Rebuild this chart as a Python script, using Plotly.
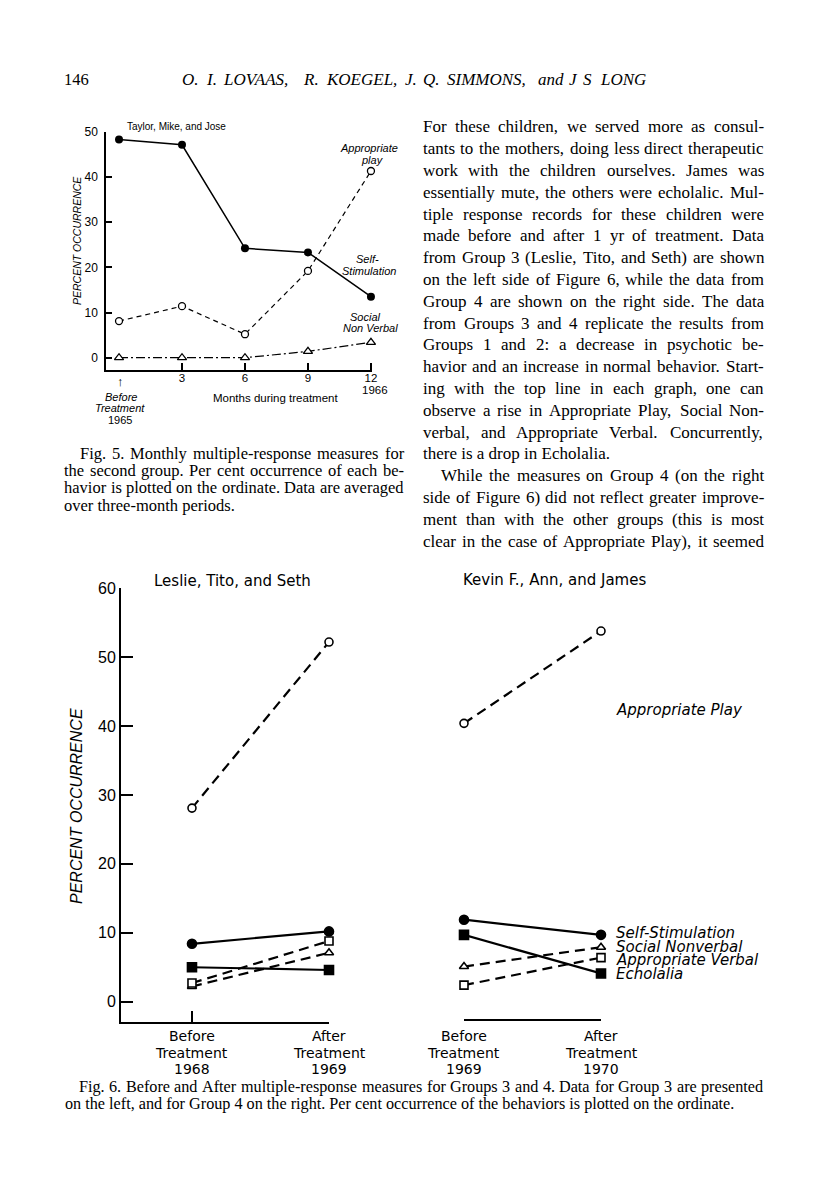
import plotly.graph_objects as go

# ---- values ----
# Fig. 5: Taylor, Mike and Jose, months during treatment
months = [0, 3, 6, 9, 12]
f5_self_stim = [48.3, 47.1, 24.2, 23.3, 13.5]
f5_approp_play = [8.1, 11.4, 5.2, 19.2, 41.3]
f5_social_nonverbal = [0.0, 0.0, 0.0, 1.4, 3.4]
f5_yticks = [0, 10, 20, 30, 40, 50]
f5_xticks = [3, 6, 9, 12]

# Fig. 6: before (0) / after (1) treatment
phase = [0, 1]
g3_approp_play = [28.1, 52.2]
g3_self_stim = [8.4, 10.2]
g3_echolalia = [5.0, 4.6]
g3_approp_verbal = [2.7, 8.8]
g3_social_nonverbal = [2.2, 7.1]

g4_approp_play = [40.4, 53.8]
g4_self_stim = [11.9, 9.7]
g4_echolalia = [9.7, 4.1]
g4_social_nonverbal = [5.1, 7.9]
g4_approp_verbal = [2.4, 6.4]

f6_yticks = [0, 10, 20, 30, 40, 50, 60]
g3_xlabels = [["Before", "Treatment", "1968"], ["After", "Treatment", "1969"]]
g4_xlabels = [["Before", "Treatment", "1969"], ["After", "Treatment", "1970"]]
g4_series = ["Self-Stimulation", "Social Nonverbal", "Appropriate Verbal", "Echolalia"]

# ---- page text ----
header_authors = "O. I. LOVAAS, R. KOEGEL, J. Q. SIMMONS, and J S LONG"
body_lines = [
    "For these children, we served more as consul-",
    "tants to the mothers, doing less direct therapeutic",
    "work with the children ourselves. James was",
    "essentially mute, the others were echolalic. Mul-",
    "tiple response records for these children were",
    "made before and after 1 yr of treatment. Data",
    "from Group 3 (Leslie, Tito, and Seth) are shown",
    "on the left side of Figure 6, while the data from",
    "Group 4 are shown on the right side. The data",
    "from Groups 3 and 4 replicate the results from",
    "Groups 1 and 2: a decrease in psychotic be-",
    "havior and an increase in normal behavior. Start-",
    "ing with the top line in each graph, one can",
    "observe a rise in Appropriate Play, Social Non-",
    "verbal, and Appropriate Verbal. Concurrently,",
    "there is a drop in Echolalia.",
    "While the measures on Group 4 (on the right",
    "side of Figure 6) did not reflect greater improve-",
    "ment than with the other groups (this is most",
    "clear in the case of Appropriate Play), it seemed",
]
fig5_caption = [
    "Fig. 5. Monthly multiple-response measures for",
    "the second group. Per cent occurrence of each be-",
    "havior is plotted on the ordinate. Data are averaged",
    "over three-month periods.",
]
fig6_caption = [
    "Fig. 6. Before and After multiple-response measures for Groups 3 and 4. Data for Group 3 are presented",
    "on the left, and for Group 4 on the right. Per cent occurrence of the behaviors is plotted on the ordinate.",
]

# page geometry (the html body adds an 8px margin)
OFF = 8
W, H = 800, 1179


def px(x):
    return (x - OFF) / W


def py(y):
    return 1 - (y - OFF) / H


# Times metrics, used to spread words for justified lines
TIMES = {' ': 250, ',': 250, '.': 250, ':': 278, ';': 278, '-': 333, '(': 333, ')': 333, "'": 333,
         'A': 722, 'B': 667, 'C': 667, 'D': 722, 'E': 611, 'F': 556, 'G': 722, 'H': 722, 'I': 333,
         'J': 389, 'K': 722, 'L': 611, 'M': 889, 'N': 722, 'O': 722, 'P': 556, 'Q': 722, 'R': 667,
         'S': 556, 'T': 611, 'U': 722, 'V': 722, 'W': 944, 'X': 722, 'Y': 722, 'Z': 611,
         'a': 444, 'b': 500, 'c': 444, 'd': 500, 'e': 444, 'f': 333, 'g': 500, 'h': 500, 'i': 278,
         'j': 278, 'k': 500, 'l': 278, 'm': 778, 'n': 500, 'o': 500, 'p': 500, 'q': 500, 'r': 333,
         's': 389, 't': 278, 'u': 500, 'v': 500, 'w': 722, 'x': 500, 'y': 500, 'z': 444}


def tw(s, size):
    return sum(TIMES.get(c, 500) for c in s) / 1000 * size


def note(text, x, y, size, anchor='left', family='Liberation Sans', **kw):
    return dict(text=text, x=px(x), y=py(y), xref='paper', yref='paper', xanchor=anchor,
                yanchor='middle', showarrow=False, borderpad=0,
                font=dict(family=family, size=size, color='black'), **kw)


def text_line(text, x0, x1, y, size, justify=True, italic=False):
    fam = 'Liberation Serif'
    if not justify:
        t = '<i>' + text + '</i>' if italic else text
        return [note(t, x0, y, size, family=fam)]
    words = text.split()
    widths = [tw(w, size) for w in words]
    gap = (x1 - x0 - sum(widths)) / (len(words) - 1)
    out, x = [], x0
    for w, wd in zip(words, widths):
        t = '<i>' + w + '</i>' if italic else w
        out.append(note(t, x, y, size, family=fam))
        x += wd + gap
    return out


fig = go.Figure()

# ---- Fig. 5 ----
fig.add_trace(go.Scatter(x=months, y=f5_self_stim, mode='lines+markers', xaxis='x', yaxis='y',
                         line=dict(color='black', width=1.5),
                         marker=dict(symbol='circle', size=8, color='black'), cliponaxis=False))
fig.add_trace(go.Scatter(x=months, y=f5_approp_play, mode='lines+markers', xaxis='x', yaxis='y',
                         line=dict(color='black', width=1.2, dash='5px,4px'),
                         marker=dict(symbol='circle', size=7, color='white',
                                     line=dict(color='black', width=1.3)), cliponaxis=False))
fig.add_trace(go.Scatter(x=months, y=f5_social_nonverbal, mode='lines+markers', xaxis='x', yaxis='y',
                         line=dict(color='black', width=1.2, dash='9px,3px,2px,3px'),
                         marker=dict(symbol='triangle-up', size=8, color='white',
                                     line=dict(color='black', width=1.3)), cliponaxis=False))

# ---- Fig. 6, group 3 (left) and group 4 (right) ----
f6_styles = [('circle', 'white', '10px,6px'), ('triangle-up', 'white', '10px,6px'),
             ('square', 'white', '10px,6px'), ('square', 'black', 'solid'),
             ('circle', 'black', 'solid')]
groups = [('x2', 'y2', [g3_approp_play, g3_social_nonverbal, g3_approp_verbal, g3_echolalia, g3_self_stim]),
          ('x3', 'y3', [g4_approp_play, g4_social_nonverbal, g4_approp_verbal, g4_echolalia, g4_self_stim])]
for xa, ya, series in groups:
    for ys, (sym, fill, dash) in zip(series, f6_styles):
        fig.add_trace(go.Scatter(x=phase, y=ys, mode='lines+markers', xaxis=xa, yaxis=ya,
                                 line=dict(color='black', width=2.2, dash=dash),
                                 marker=dict(symbol=sym, size=9 if fill == 'black' else 8, color=fill,
                                             line=dict(color='black', width=1.6)),
                                 cliponaxis=False))

axis_common = dict(showline=True, linecolor='black', showgrid=False, zeroline=False,
                   ticks='inside', tickcolor='black', fixedrange=True, automargin=False)

fig.update_layout(
    width=W, height=H, autosize=False,
    margin=dict(l=0, r=0, t=0, b=0, pad=0, autoexpand=False),
    paper_bgcolor='white', plot_bgcolor='white', showlegend=False,
    font=dict(family='Liberation Sans', color='black'),
    xaxis=dict(domain=[px(106), px(372)], range=[-0.62, 12.05], anchor='y',
               tickvals=f5_xticks, ticktext=[str(v) for v in f5_xticks],
               linewidth=1.5, ticklen=7, tickwidth=1.5, tickfont=dict(size=11.5),
               ticklabelstandoff=-4, **axis_common),
    yaxis=dict(domain=[py(370), py(131.7)], range=[-2.72, 50], anchor='x',
               tickvals=f5_yticks, linewidth=1.5, ticklen=6, tickwidth=1.5,
               tickfont=dict(size=12), ticklabelstandoff=4, **axis_common),
    xaxis2=dict(domain=[px(121), px(329)], range=[-0.518, 1.0], anchor='y2',
                tickvals=phase, showticklabels=False, linewidth=2, ticklen=11, tickwidth=2,
                **axis_common),
    yaxis2=dict(domain=[py(1022), py(588.3)], range=[-2.95, 60], anchor='x2',
                tickvals=f6_yticks, linewidth=2, ticklen=12, tickwidth=2,
                tickfont=dict(size=16), ticklabelstandoff=0, **axis_common),
    xaxis3=dict(domain=[px(464), px(601)], range=[0, 1], anchor='y3',
                tickvals=phase, showticklabels=False, linewidth=2, ticklen=11, tickwidth=2,
                **axis_common),
    yaxis3=dict(domain=[py(1019), py(588.3)], range=[-2.51, 60], anchor='x3', visible=False,
                showgrid=False, zeroline=False, fixedrange=True, automargin=False),
)

ann = []
# running head
ann.append(note('146', 63, 79, 16.5, family='Liberation Serif'))
ann += text_line(header_authors, 181, 646, 79, 17, italic=True)

# Fig. 5 labels
ann.append(note('Taylor, Mike, and Jose', 126, 126, 10))
ann.append(note('<i>PERCENT OCCURRENCE</i>', 77, 241, 10.5, anchor='center', textangle=-90))
ann.append(note('<i>Appropriate</i>', 369, 148, 11, anchor='center'))
ann.append(note('<i>play</i>', 372, 160, 11, anchor='center'))
ann.append(note('<i>Self-</i>', 367, 259, 11, anchor='center'))
ann.append(note('<i>Stimulation</i>', 369, 271, 11, anchor='center'))
ann.append(note('<i>Social</i>', 365, 317, 11, anchor='center'))
ann.append(note('<i>Non Verbal</i>', 370, 328, 11, anchor='center'))
ann.append(note('1966', 375, 390, 11.5, anchor='center'))
ann.append(note('\u2191', 121, 381, 13, anchor='center'))
ann.append(note('<i>Before</i>', 121, 397, 11, anchor='center'))
ann.append(note('<i>Treatment</i>', 120, 408, 11, anchor='center'))
ann.append(note('1965', 120, 420, 11, anchor='center'))
ann.append(note('Months during treatment', 275, 398, 11.5, anchor='center'))

# Fig. 5 caption (left column 63-403)
for i, line in enumerate(fig5_caption):
    last = i == len(fig5_caption) - 1
    ann += text_line(line, 79 if i == 0 else 63, 403, 453 + 17.5 * i, 16.5, justify=not last)

# body text (right column 422-763)
for i, line in enumerate(body_lines):
    last = i == 15
    x0 = 440 if i == 16 else 422
    ann += text_line(line, x0, 763, 127 + 21.8 * i, 17, justify=not last)

# Fig. 6 labels
ann.append(note('Leslie, Tito, and Seth', 153, 581, 15, family='DejaVu Sans'))
ann.append(note('Kevin F., Ann, and James', 462, 580, 15, family='DejaVu Sans'))
ann.append(note('<i>PERCENT OCCURRENCE</i>', 76, 806, 16, anchor='center', textangle=-90))
ann.append(note('<i>Appropriate Play</i>', 615, 710, 15, family='DejaVu Sans'))
for name, y in zip(g4_series, [933, 947, 960, 974]):
    ann.append(note('<i>' + name + '</i>', 615, y, 15, family='DejaVu Sans'))

# Fig. 6 category labels under the two x axes, placed on the axes' own scales
for xa, labels in [('x2', g3_xlabels), ('x3', g4_xlabels)]:
    for xv, lines in zip(phase, labels):
        for j, t in enumerate(lines):
            ann.append(dict(text=t, x=xv, y=py(1036 + 16.5 * j), xref=xa, yref='paper',
                            xanchor='center', yanchor='middle', showarrow=False, borderpad=0,
                            font=dict(family='DejaVu Sans', size=14, color='black')))

# Fig. 6 caption (full text width 63-763)
ann += text_line(fig6_caption[0], 78, 762, 1087, 16.2)
ann += text_line(fig6_caption[1], 64, 745, 1104, 16.2, justify=False)

fig.update_layout(annotations=ann)

fig.write_html("out.html")
